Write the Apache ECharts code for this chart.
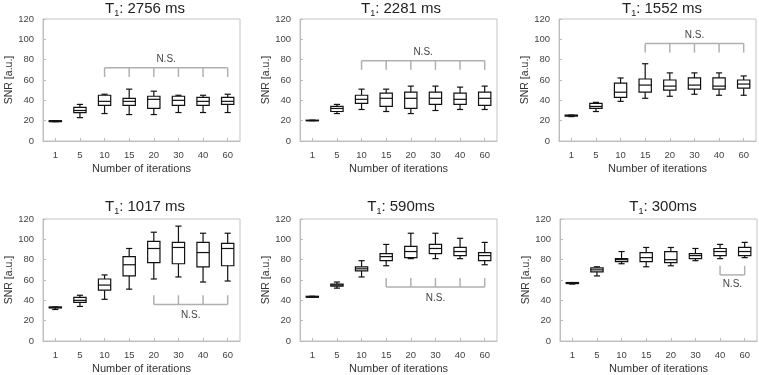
<!DOCTYPE html>
<html lang="en">
<head>
    <meta charset="UTF-8">
    <title>SNR vs iterations</title>
    <script type="text/javascript" src="https://cdn.jsdelivr.net/npm/echarts@6/dist/echarts.min.js"></script>
</head>
<body style="margin:0">
<div id="main" style="width: 759px;height: 375px"></div>
</body>
<script>
    var iterations = ["1", "5", "10", "15", "20", "30", "40", "60"]
    var t1Labels = ["2756 ms", "2281 ms", "1552 ms", "1017 ms", "590ms", "300ms"]

    // each box: [min, q1, median, q3, max]
    var snr2756 = [[19,19,19.5,20,20],[23,28,30,33,36],[27,35,39,45,46],[26,35,39,42,51],[26,32,41,44,49],[28,35,40,44,45],[28,35,39,43,45],[28,36,39,43,46]]
    var snr2281 = [[20,20,20,20.5,20.5],[27,29,32,34,36],[31,37,41,45,51],[29,34,42,47,51],[27,32,42,48,54],[30,36,42,48,54],[31,36,41,47,53],[31,35,42,48,54]]
    var snr1552 = [[24,24.5,25,25.5,25.5],[29,32,34,37,38],[39,43,48,57,62],[42,48,55,61,76],[44,50,54,60,67],[46,51,55,62,67],[45,51,54,62,67],[45,52,56,60,64]]
    var snr1017 = [[31,32.5,33,33.5,33.5],[34,38,40,43,45],[41,50,55,61,65],[51,64,75,83,91],[61,77,91,98,107],[63,76,92,97,113],[58,73,87,97,106],[59,74,91,96,106]]
    var snr590 = [[43,43,43.5,44,44],[52,54,55,56,58],[63,69,71,73,79],[74,79,83,86,95],[81,82,88,93,106],[81,86,91,95,106],[81,84,88,92,101],[75,79,84,87,97]]
    var snr300 = [[56,56.5,57,57.5,57.5],[64,68,70,72,73],[76,78,80,81,88],[73,78,82,87,92],[74,77,80,88,92],[79,81,84,86,91],[81,84,88,91,95],[82,84,88,92,97]]
    var allSnr = [snr2756, snr2281, snr1552, snr1017, snr590, snr300]

    // N.S. brackets: from / to category, bracket y, tick end y, text y
    var nsFrom = ["10", "10", "15", "20", "15", "40"]
    var nsTo = ["60", "60", "60", "60", "60", "60"]
    var nsY = [72, 79, 96, 36, 53, 65]
    var nsTickY = [63, 70, 87, 45, 62, 74]
    var nsTextY = [80, 87, 104, 25, 42, 56]

    var lefts = [43, 300, 559, 43, 300, 560]
    var tops = [19, 19, 19, 219, 219, 219]
    var titleX = [140, 396, 657, 140, 396, 658]
    var titleY = [-5, -5, -5, 193, 193, 193]

    var myChart = echarts.init(document.getElementById("main"))

    var grids = [], xAxes = [], yAxes = [], series = [], titles = []
    for (var i = 0; i < 6; i++) {
        grids.push({left: lefts[i], top: tops[i], width: 197, height: 122, show: true,
            borderColor: "#c4c4c4", borderWidth: 1, backgroundColor: "#fff"})
        xAxes.push({type: "category", gridIndex: i, data: iterations,
            name: "Number of iterations", nameLocation: "middle", nameGap: 22,
            nameTextStyle: {fontSize: 11, color: "#333", fontFamily: "Liberation Sans"},
            axisLine: {lineStyle: {color: "#bdbdbd"}},
            axisTick: {show: true, inside: true, length: 3, alignWithLabel: true, lineStyle: {color: "#bdbdbd"}},
            axisLabel: {fontSize: 9.5, color: "#444", margin: 9, fontFamily: "Liberation Sans"}})
        yAxes.push({type: "value", gridIndex: i, min: 0, max: 120, interval: 20,
            name: "SNR [a.u.]", nameLocation: "middle", nameGap: 28,
            nameTextStyle: {fontSize: 10.5, color: "#333", fontFamily: "Liberation Sans"},
            axisLine: {show: true, lineStyle: {color: "#bdbdbd"}},
            axisTick: {show: true, inside: true, length: 3, lineStyle: {color: "#bdbdbd"}},
            splitLine: {show: false},
            axisLabel: {fontSize: 9.5, color: "#444", margin: 9, fontFamily: "Liberation Sans"}})
        titles.push({left: titleX[i], top: titleY[i], textAlign: "center",
            text: "{a|T}{s|1}{a|: " + t1Labels[i] + "}",
            textStyle: {fontWeight: "normal", rich: {
                a: {fontSize: 15, color: "#222", fontWeight: "normal", fontFamily: "Liberation Sans", lineHeight: 18},
                s: {fontSize: 9, color: "#222", fontWeight: "normal", fontFamily: "Liberation Sans", lineHeight: 18, verticalAlign: "bottom", padding: [6, 0, 0, 0]}
            }}})

        var boxes = allSnr[i].map(function (d, k) { return [k].concat(d) })
        series.push({
            type: "custom", xAxisIndex: i, yAxisIndex: i, data: boxes,
            encode: {x: 0, y: [1, 2, 3, 4, 5]},
            renderItem: function (params, api) {
                var x = api.value(0)
                var w = api.size([1, 0])[0] * 0.5
                var pMin = api.coord([x, api.value(1)])
                var pQ1 = api.coord([x, api.value(2)])
                var pMed = api.coord([x, api.value(3)])
                var pQ3 = api.coord([x, api.value(4)])
                var pMax = api.coord([x, api.value(5)])
                var cx = pMed[0]
                var st = {stroke: "#111", lineWidth: 1.2, fill: null}
                return {type: "group", children: [
                    {type: "line", shape: {x1: cx, y1: pMax[1], x2: cx, y2: pQ3[1]}, style: st},
                    {type: "line", shape: {x1: cx, y1: pMin[1], x2: cx, y2: pQ1[1]}, style: st},
                    {type: "line", shape: {x1: cx - w / 4, y1: pMax[1], x2: cx + w / 4, y2: pMax[1]}, style: st},
                    {type: "line", shape: {x1: cx - w / 4, y1: pMin[1], x2: cx + w / 4, y2: pMin[1]}, style: st},
                    {type: "rect", shape: {x: cx - w / 2, y: pQ3[1], width: w, height: pQ1[1] - pQ3[1]},
                        style: {stroke: "#111", lineWidth: 1.2, fill: "#fff"}},
                    {type: "line", shape: {x1: cx - w / 2, y1: pMed[1], x2: cx + w / 2, y2: pMed[1]}, style: st}
                ]}
            }
        })

        series.push({
            type: "custom", xAxisIndex: i, yAxisIndex: i,
            data: [[iterations.indexOf(nsFrom[i]), iterations.indexOf(nsTo[i]), nsY[i], nsTickY[i], nsTextY[i]]],
            encode: {x: [0, 1], y: [2, 3, 4]},
            renderItem: function (params, api) {
                var a = api.value(0), b = api.value(1)
                var st = {stroke: "#b0b0b0", lineWidth: 1.5, fill: null}
                var kids = []
                var p1 = api.coord([a, api.value(2)])
                var p2 = api.coord([b, api.value(2)])
                kids.push({type: "line", shape: {x1: p1[0], y1: p1[1], x2: p2[0], y2: p2[1]}, style: st})
                for (var k = a; k <= b; k++) {
                    var q1 = api.coord([k, api.value(2)])
                    var q2 = api.coord([k, api.value(3)])
                    kids.push({type: "line", shape: {x1: q1[0], y1: q1[1], x2: q2[0], y2: q2[1]}, style: st})
                }
                var ty = api.coord([a, api.value(4)])[1]
                kids.push({type: "text", x: (p1[0] + p2[0]) / 2, y: ty, style: {text: "N.S.", fontSize: 10,
                    fill: "#444", fontFamily: "Liberation Sans", align: "center", verticalAlign: "middle"}})
                return {type: "group", children: kids}
            }
        })
    }

    myChart.setOption({
        animation: false,
        title: titles,
        grid: grids,
        xAxis: xAxes,
        yAxis: yAxes,
        series: series
    })
</script>
</html>
